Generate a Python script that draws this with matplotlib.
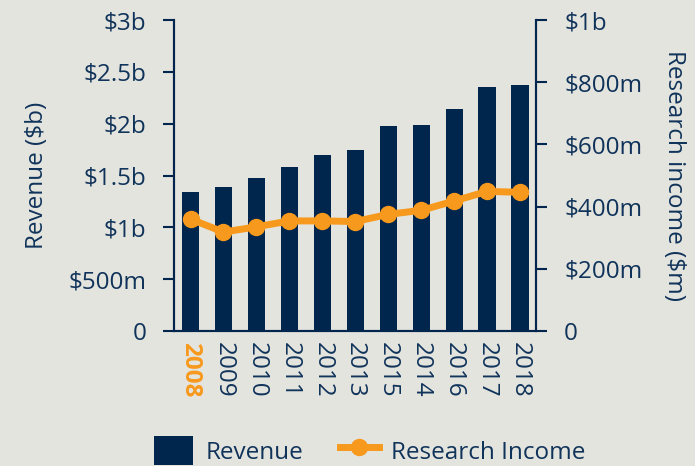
import numpy as np
import matplotlib.pyplot as plt
from matplotlib.ticker import FixedLocator

plt.rcParams['font.family'] = ['Open Sans', 'DejaVu Sans']

years = ['2008', '2009', '2010', '2011', '2012', '2013', '2015', '2014', '2016', '2017', '2018']
revenue = [1.34, 1.39, 1.48, 1.58, 1.70, 1.75, 1.98, 1.99, 2.14, 2.35, 2.37]  # $b
research = [360, 318, 335, 354, 354, 352, 375, 388, 418, 449, 446]  # $m

left_ticks = [0, 0.5, 1, 1.5, 2, 2.5, 3]
left_labels = ['0', '$500m', '$1b', '$1.5b', '$2b', '$2.5b', '$3b']
right_ticks = [0, 200, 400, 600, 800, 1000]
right_labels = ['0', '$200m', '$400m', '$600m', '$800m', '$1b']

bg = '#e4e4df'
navy = '#00264d'
txt = '#10335a'
orange = '#f7991c'
fs = 17.5

fig = plt.figure(figsize=(6.95, 4.66), dpi=100, facecolor=bg)
ax = fig.add_axes([0.2504, 0.2897, 0.5215, 0.6673])
ax.set_facecolor(bg)
x = np.arange(len(years))

bars = ax.bar(x, revenue, width=0.52, color=navy, label='Revenue', zorder=2)
ax.set_xlim(-0.5, len(years) - 0.5)
ax.set_ylim(0, 3)
ax.yaxis.set_major_locator(FixedLocator(left_ticks))
ax.set_yticklabels(left_labels)
ax.set_ylabel('Revenue ($b)', fontsize=fs, color=txt)
ax.yaxis.set_label_coords(-0.345, 0.5)

ax2 = ax.twinx()
line, = ax2.plot(x, research, color=orange, lw=5, marker='o', ms=11.5,
                 label='Research Income', zorder=3)
ax2.set_ylim(0, 1000)
ax2.yaxis.set_major_locator(FixedLocator(right_ticks))
ax2.set_yticklabels(right_labels)
ax2.set_ylabel('Research income ($m)', fontsize=fs, color=txt, rotation=270,
               va='center')
ax2.yaxis.set_label_coords(1.38, 0.5)

for a in (ax, ax2):
    a.spines['top'].set_visible(False)
    for s in ('left', 'right', 'bottom'):
        a.spines[s].set_color(navy)
        a.spines[s].set_linewidth(1.5)
    a.tick_params(axis='y', colors=navy, labelcolor=txt, labelsize=fs,
                  length=8, width=1.5, pad=12)

ax.set_xticks(x)
ax.set_xticklabels(years, rotation=270, fontsize=fs, color=txt)
ax.tick_params(axis='x', length=0, pad=8)
first = ax.get_xticklabels()[0]
first.set_color(orange)
first.set_fontweight('bold')

fig.legend([bars, line], ['Revenue', 'Research Income'], loc='center',
           bbox_to_anchor=(0.532, 0.033), ncol=2, frameon=False, fontsize=fs,
           labelcolor=txt, handlelength=1.6, handleheight=1.5,
           columnspacing=1.5, handletextpad=0.5)

fig.savefig('out.png', dpi=100, facecolor=bg)
